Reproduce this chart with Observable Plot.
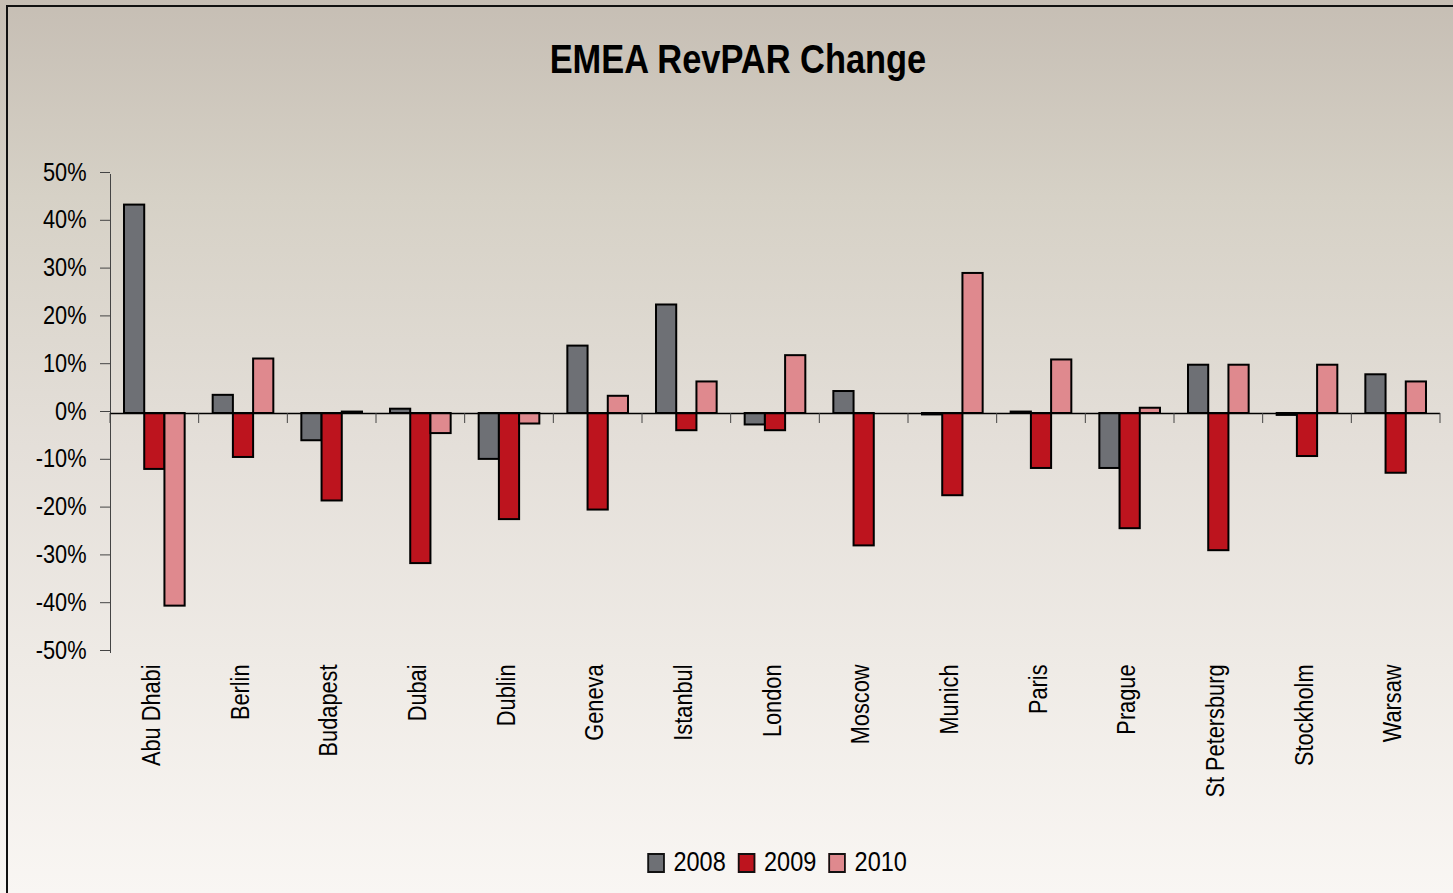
<!DOCTYPE html>
<html>
<head>
<meta charset="utf-8">
<script src="https://cdn.jsdelivr.net/npm/d3@7"></script>
<script src="https://cdn.jsdelivr.net/npm/@observablehq/plot@0.6"></script>
<style>
  html, body { margin: 0; padding: 0; }
  body {
    width: 1453px; height: 893px; overflow: hidden; position: relative;
    background: linear-gradient(to bottom, #c6beb4 0%, #d6d1c6 22%, #e4dfd9 50%, #efebe6 75%, #f9f6f3 100%);
    font-family: "Liberation Sans", Arial, sans-serif;
  }
  #frame {
    position: absolute; left: 6px; top: 5px; width: 1460px; height: 900px;
    border-left: 2px solid #111; border-top: 2px solid #111; box-sizing: border-box;
  }
  #title {
    position: absolute; left: 0; width: 1475px; top: 39px; text-align: center;
    font-size: 40px; font-weight: bold; color: #000; line-height: 1;
  }
  #title span { display: inline-block; transform: scaleX(0.86); transform-origin: center; }
  #chart { position: absolute; left: 0; top: 0; }
  #legend {
    position: absolute; left: 0; width: 1555px; top: 849px; display: flex; justify-content: center;
    line-height: 1;
  }
  #legend .inner { display: flex; align-items: center; font-size: 27px; color: #000; transform: scaleX(0.87); transform-origin: center; }
  .item { display: flex; align-items: center; margin: 0 7px; }
  .sw { width: 16px; height: 16px; border: 2px solid #111; margin-right: 10px; }
</style>
</head>
<body>
<div id="frame"></div>
<div id="title"><span>EMEA RevPAR Change</span></div>
<div id="chart"></div>
<div id="legend"><div class="inner"></div></div>
<script>
const cities = ["Abu Dhabi","Berlin","Budapest","Dubai","Dublin","Geneva","Istanbul","London","Moscow","Munich","Paris","Prague","St Petersburg","Stockholm","Warsaw"];
const years = ["2008","2009","2010"];
const v2008 = [43.6, 3.8, -5.7, 0.9, -9.6, 14.1, 22.7, -2.4, 4.6, -0.3, 0.3, -11.5, 10.1, -0.4, 8.1];
const v2009 = [-11.7, -9.2, -18.3, -31.4, -22.2, -20.2, -3.6, -3.6, -27.7, -17.2, -11.5, -24.1, -28.7, -9.0, -12.5];
const v2010 = [-40.3, 11.4, 0.3, -4.2, -2.2, 3.6, 6.6, 12.1, null, 29.3, 11.2, 1.1, 10.1, 10.1, 6.6];
const yTicks = [-50, -40, -30, -20, -10, 0, 10, 20, 30, 40, 50];
const colors = ["#6e7075", "#bd141e", "#df898e"];

const series = [v2008, v2009, v2010];

const W = 1453, H = 820, ML = 110, MR = 13, MT = 174, MB = 168;
const step = (W - ML - MR) / cities.length;
const outer = 0.158 * step, bw = 0.228 * step;

const barMarks = years.map((yr, i) => {
  const rows = cities.map((c, j) => ({city: c, year: yr, value: series[i][j]})).filter(d => d.value != null);
  return Plot.barY(rows, {
    x: "city", y: "value", fill: colors[i], stroke: "#000", strokeWidth: 2,
    insetLeft: outer + i * bw, insetRight: step - outer - (i + 1) * bw
  });
});

const boundaryTicks = (index, scales, values, dims) => {
  const {x, y} = scales;
  const g = d3.create("svg:g").attr("stroke", "#444").attr("stroke-width", 1);
  const y0 = y(0);
  const xs = cities.map(c => x(c));
  xs.push(dims.width - dims.marginRight);
  xs.forEach(px => {
    g.append("line").attr("x1", px).attr("x2", px).attr("y1", y0).attr("y2", y0 + 10);
  });
  return g.node();
};

const chart = Plot.plot({
  width: W, height: H,
  marginLeft: ML, marginRight: MR, marginTop: MT, marginBottom: MB,
  style: {background: "transparent", fontFamily: '"Liberation Sans", Arial, sans-serif', color: "#000"},
  x: {type: "band", domain: cities, padding: 0, round: false},
  y: {domain: [-50, 50]},
  marks: [
    Plot.frame({anchor: "left", stroke: "#444", strokeWidth: 1}),
    Plot.axisY({ticks: yTicks, tickFormat: d => d + "%", tickSize: 10, tickPadding: 14, fontSize: 25, stroke: "#444", fill: "#000", dy: -2, label: null}),
    Plot.axisX({anchor: "bottom", tickSize: 0, tickRotate: -90, tickPadding: 12, fontSize: 25, fill: "#000", dx: -3, label: null}),
    ...barMarks,
    Plot.ruleY([0], {stroke: "#000", strokeWidth: 1.5}),
    boundaryTicks
  ]
});
document.getElementById("chart").appendChild(chart);

// condense axis text like a narrow typeface
chart.querySelectorAll("text").forEach(t => {
  const len = t.getComputedTextLength();
  if (len > 0) {
    t.setAttribute("textLength", (len * 0.87).toFixed(2));
    t.setAttribute("lengthAdjust", "spacingAndGlyphs");
  }
});

const legend = document.querySelector("#legend .inner");
years.forEach((yr, i) => {
  const item = document.createElement("div");
  item.className = "item";
  const sw = document.createElement("div");
  sw.className = "sw";
  sw.style.background = colors[i];
  item.appendChild(sw);
  const t = document.createElement("span");
  t.textContent = yr;
  item.appendChild(t);
  legend.appendChild(item);
});
</script>
</body>
</html>
